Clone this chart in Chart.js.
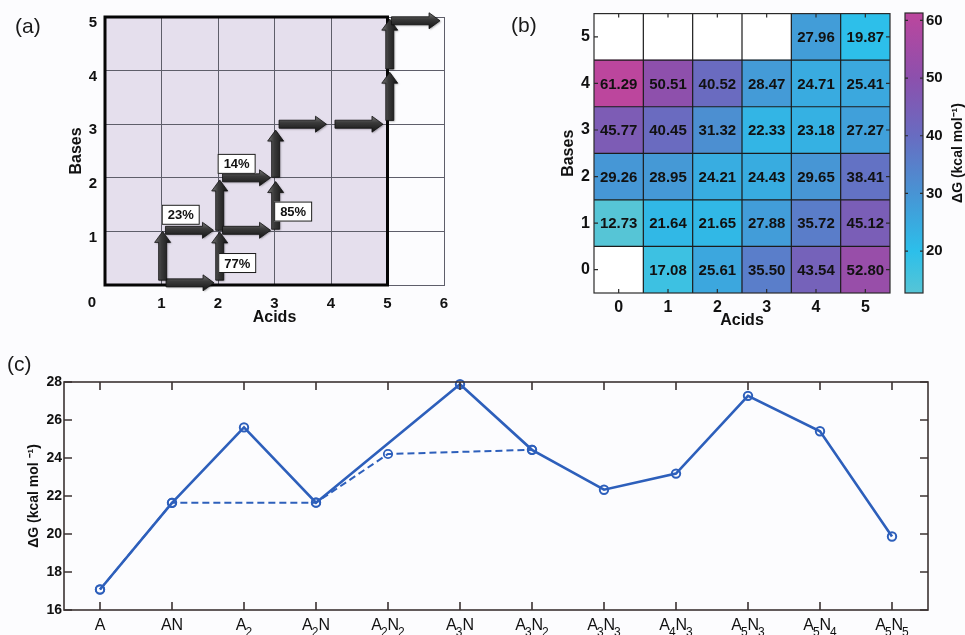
<!DOCTYPE html>
<html>
<head>
<meta charset="utf-8">
<title>Acid–base complex formation energies</title>
<script src="https://cdn.jsdelivr.net/npm/chart.js@4.4.1/dist/chart.umd.min.js"></script>
<style>
  html, body { margin: 0; padding: 0; background: #fcfcfe; }
  #fig { position: relative; width: 965px; height: 635px; overflow: hidden; background: #fcfcfe;
         font-family: "Liberation Sans", Arial, sans-serif; }
  #fig canvas { position: absolute; }
  .tag { position: absolute; font-size: 21px; line-height: 21px; color: #1a1a1a; }
</style>
</head>
<body>
<div id="fig">
  <canvas id="pathChart" width="470" height="330" style="left:0;top:0"></canvas>
  <canvas id="heatChart" width="395" height="330" style="left:500px;top:0"></canvas>
  <canvas id="scaleChart" width="70" height="330" style="left:895px;top:0"></canvas>
  <canvas id="lineChart" width="965" height="305" style="left:0;top:330px"></canvas>
  <div class="tag" style="left:15px;top:15px">(a)</div>
  <div class="tag" style="left:511px;top:14px">(b)</div>
  <div class="tag" style="left:7px;top:353px">(c)</div>
</div>
<script>
// ---------- data ----------
const acids = [0, 1, 2, 3, 4, 5];
const bases = [0, 1, 2, 3, 4, 5];

// ΔG (kcal/mol) for each (acids, bases) cluster, one array per number of bases
const dGBases0 = [null, 17.08, 25.61, 35.50, 43.54, 52.80];
const dGBases1 = [12.73, 21.64, 21.65, 27.88, 35.72, 45.12];
const dGBases2 = [29.26, 28.95, 24.21, 24.43, 29.65, 38.41];
const dGBases3 = [45.77, 40.45, 31.32, 22.33, 23.18, 27.27];
const dGBases4 = [61.29, 50.51, 40.52, 28.47, 24.71, 25.41];
const dGBases5 = [null, null, null, null, 27.96, 19.87];
const heatRows = [dGBases0, dGBases1, dGBases2, dGBases3, dGBases4, dGBases5];
const colorbarTicks = [20, 30, 40, 50, 60];

// growth pathway grid (panel a)
const gridAcidTicks = [0, 1, 2, 3, 4, 5, 6];
const gridBaseTicks = [0, 1, 2, 3, 4, 5];
// arrows: [acids from, bases from, acids to, bases to]
const pathArrows = [
  [1.08, 0.04, 1.93, 0.04],
  [1.02, 0.09, 1.02, 1.00],
  [1.07, 1.02, 1.92, 1.02],
  [2.03, 0.09, 2.03, 0.99],
  [2.03, 1.02, 2.03, 1.96],
  [2.08, 1.02, 2.93, 1.02],
  [2.08, 2.00, 2.93, 2.00],
  [3.02, 1.04, 3.02, 1.93],
  [3.02, 2.01, 3.02, 2.89],
  [3.08, 3.00, 3.92, 3.00],
  [4.07, 3.00, 4.92, 3.00],
  [5.04, 3.07, 5.04, 3.97],
  [5.04, 4.03, 5.04, 4.96],
  [5.07, 4.93, 5.93, 4.93]
];
const branchText = ['23%', '14%', '85%', '77%'];
const branchAcids = [1.34, 2.33, 3.33, 2.34];
const branchBases = [1.31, 2.26, 1.37, 0.41];

// lowest-energy growth sequence (panel c)
const stepLabels = ['A', 'AN', 'A₂', 'A₂N', 'A₂N₂', 'A₃N', 'A₃N₂', 'A₃N₃', 'A₄N₃', 'A₅N₃', 'A₅N₄', 'A₅N₅'];
const dGSolidPath = [17.08, 21.64, 25.61, 21.65, null, 27.88, 24.43, 22.33, 23.18, 27.27, 25.41, 19.87];
const dGDashedPath = [17.08, 21.64, null, 21.65, 24.21, null, 24.43, null, null, null, null, null];
const dGAxisTicks = [16, 18, 20, 22, 24, 26, 28];

// ---------- styling helpers ----------
const FONT = '"Liberation Sans", Arial, sans-serif';
Chart.defaults.font.family = FONT;
Chart.defaults.color = '#111';
const lineBlue = '#2d5fbb';

const cmapStops = [
  [12.73, [86, 197, 214]],
  [20, [44, 191, 234]],
  [30, [72, 148, 212]],
  [40, [104, 108, 193]],
  [50, [140, 80, 173]],
  [61.29, [188, 70, 157]]
];
function cmap(v) {
  if (v <= cmapStops[0][0]) return 'rgb(' + cmapStops[0][1] + ')';
  for (let i = 1; i < cmapStops.length; i++) {
    const [v1, c1] = cmapStops[i];
    const [v0, c0] = cmapStops[i - 1];
    if (v <= v1) {
      const t = (v - v0) / (v1 - v0);
      return 'rgb(' + c0.map((c, k) => Math.round(c + (c1[k] - c) * t)).join(',') + ')';
    }
  }
  return 'rgb(' + cmapStops[cmapStops.length - 1][1] + ')';
}

const allValues = heatRows.flat().filter(v => v != null);
const dGMin = Math.min(...allValues);
const dGMax = Math.max(...allValues);

function fixedTicks(list) {
  return scale => { scale.ticks = list.map(v => ({ value: v })); };
}

// draws a box around the chart area with short inward ticks (MATLAB-style)
const framePlugin = {
  id: 'frame',
  afterDraw(chart, args, opts) {
    if (!opts || !opts.enabled) return;
    const { ctx, chartArea: a, scales } = chart;
    ctx.save();
    ctx.strokeStyle = opts.color;
    ctx.lineWidth = opts.width;
    ctx.strokeRect(a.left, a.top, a.right - a.left, a.bottom - a.top);
    const L = opts.tickLen;
    ctx.beginPath();
    if (opts.xTicks && scales.x) {
      scales.x.ticks.forEach((t, i) => {
        const px = scales.x.getPixelForTick(i);
        ctx.moveTo(px, a.bottom); ctx.lineTo(px, a.bottom - L);
        ctx.moveTo(px, a.top); ctx.lineTo(px, a.top + L);
      });
    }
    if (opts.yTicks && scales.y) {
      scales.y.ticks.forEach(t => {
        const py = scales.y.getPixelForValue(t.value);
        ctx.moveTo(a.left, py); ctx.lineTo(a.left + L, py);
        ctx.moveTo(a.right, py); ctx.lineTo(a.right - L, py);
      });
    }
    ctx.stroke();
    ctx.restore();
  }
};
Chart.register(framePlugin);

// ---------- panel (a): growth pathway ----------
function drawArrow(ctx, x0, y0, x1, y1) {
  const len = Math.hypot(x1 - x0, y1 - y0);
  const ang = Math.atan2(y1 - y0, x1 - x0);
  const shaft = 8, head = 16, headLen = 11;
  ctx.save();
  ctx.translate(x0, y0);
  ctx.rotate(ang);
  ctx.beginPath();
  ctx.moveTo(0, -shaft / 2);
  ctx.lineTo(len - headLen, -shaft / 2);
  ctx.lineTo(len - headLen, -head / 2);
  ctx.lineTo(len, 0);
  ctx.lineTo(len - headLen, head / 2);
  ctx.lineTo(len - headLen, shaft / 2);
  ctx.lineTo(0, shaft / 2);
  ctx.closePath();
  const g = ctx.createLinearGradient(0, -head / 2, 0, head / 2);
  g.addColorStop(0, '#777777');
  g.addColorStop(0.4, '#3b3b3b');
  g.addColorStop(1, '#141414');
  ctx.fillStyle = g;
  ctx.shadowColor = 'rgba(0,0,0,0.35)';
  ctx.shadowBlur = 2;
  ctx.shadowOffsetX = 1;
  ctx.shadowOffsetY = 1;
  ctx.fill();
  ctx.shadowColor = 'transparent';
  ctx.strokeStyle = '#101010';
  ctx.lineWidth = 0.8;
  ctx.stroke();
  ctx.restore();
}

const pathwayPlugin = {
  id: 'pathway',
  beforeDraw(chart) {
    const { ctx, scales: { x, y } } = chart;
    ctx.save();
    ctx.fillStyle = '#e5dfed';
    const l = x.getPixelForValue(0), r = x.getPixelForValue(5);
    const t = y.getPixelForValue(5), b = y.getPixelForValue(0);
    ctx.fillRect(l, t, r - l, b - t);
    ctx.restore();
  },
  afterDraw(chart) {
    const { ctx, scales: { x, y } } = chart;
    ctx.save();
    // region boundary
    const l = x.getPixelForValue(0), r = x.getPixelForValue(5);
    const t = y.getPixelForValue(5), b = y.getPixelForValue(0);
    ctx.strokeStyle = '#050505';
    ctx.lineWidth = 3;
    ctx.strokeRect(l, t, r - l, b - t);
    // shared origin label
    ctx.font = 'bold 15px ' + FONT;
    ctx.fillStyle = '#111';
    ctx.textAlign = 'center';
    ctx.textBaseline = 'middle';
    ctx.fillText('0', l - 13, b + 18);
    // arrows
    pathArrows.forEach(([a0, b0, a1, b1]) => {
      drawArrow(ctx, x.getPixelForValue(a0), y.getPixelForValue(b0),
                x.getPixelForValue(a1), y.getPixelForValue(b1));
    });
    // branching percentages
    ctx.font = 'bold 13px ' + FONT;
    branchText.forEach((txt, i) => {
      const cx = x.getPixelForValue(branchAcids[i]);
      const cy = y.getPixelForValue(branchBases[i]);
      const w = 38, h = 20;
      ctx.fillStyle = '#ffffff';
      ctx.fillRect(cx - w / 2, cy - h / 2, w, h);
      ctx.strokeStyle = '#1a1a1a';
      ctx.lineWidth = 1;
      ctx.strokeRect(cx - w / 2 + 0.5, cy - h / 2 + 0.5, w - 1, h - 1);
      ctx.fillStyle = '#111';
      ctx.fillText(txt, cx, cy + 1);
    });
    ctx.restore();
  }
};

new Chart(document.getElementById('pathChart'), {
  type: 'scatter',
  data: { datasets: [] },
  plugins: [pathwayPlugin],
  options: {
    responsive: false, animation: false, devicePixelRatio: 1,
    layout: { padding: { left: 60, top: 16, right: 26, bottom: 0 } },
    plugins: { legend: { display: false }, tooltip: { enabled: false } },
    scales: {
      x: {
        type: 'linear', min: 0, max: 6,
        afterBuildTicks: fixedTicks(gridAcidTicks),
        grid: { color: '#5e5e6a', lineWidth: 1, drawTicks: false },
        border: { color: '#5e5e6a' },
        ticks: { font: { size: 15, weight: 'bold' }, padding: 10, callback: v => (v === 0 ? '' : v) },
        title: { display: true, text: 'Acids', font: { size: 16, weight: 'bold' }, padding: { top: 0, bottom: 3 } },
        afterFit: s => { s.height = 45; }
      },
      y: {
        type: 'linear', min: 0, max: 5,
        afterBuildTicks: fixedTicks(gridBaseTicks),
        grid: { color: '#5e5e6a', lineWidth: 1, drawTicks: false },
        border: { color: '#5e5e6a' },
        ticks: { font: { size: 15, weight: 'bold' }, padding: 8, labelOffset: 6, callback: v => (v === 0 ? '' : v) },
        title: { display: true, text: 'Bases', font: { size: 16, weight: 'bold' }, padding: { top: 7, bottom: 0 } },
        afterFit: s => { s.width = 45; }
      }
    }
  }
});

// ---------- panel (b): ΔG heat map ----------
const heatPlugin = {
  id: 'heatCells',
  afterDatasetsDraw(chart) {
    const { ctx, chartArea: a, scales: { x, y } } = chart;
    ctx.save();
    // cell outlines
    ctx.strokeStyle = '#1c1c1c';
    ctx.lineWidth = 1.2;
    ctx.beginPath();
    acids.forEach((_, i) => {
      const px = (x.getPixelForTick(i) + (i + 1 < acids.length ? x.getPixelForTick(i + 1) : a.right + (a.right - x.getPixelForTick(i)) - (a.right - x.getPixelForTick(i)))) / 2;
      if (i + 1 < acids.length) { ctx.moveTo(px, a.top); ctx.lineTo(px, a.bottom); }
    });
    bases.forEach(b => {
      if (b === bases[bases.length - 1]) return;
      const py = y.getPixelForValue(b + 0.5);
      ctx.moveTo(a.left, py); ctx.lineTo(a.right, py);
    });
    ctx.stroke();
    // values
    ctx.font = 'bold 15px ' + FONT;
    ctx.fillStyle = '#111';
    ctx.textAlign = 'center';
    ctx.textBaseline = 'middle';
    heatRows.forEach((row, r) => {
      const meta = chart.getDatasetMeta(r);
      meta.data.forEach((bar, c) => {
        const v = row[c];
        if (v == null) return;
        ctx.fillText(v.toFixed(2), bar.x, (bar.y + bar.base) / 2 + 1);
      });
    });
    ctx.restore();
  }
};

new Chart(document.getElementById('heatChart'), {
  type: 'bar',
  data: {
    labels: acids.map(String),
    datasets: heatRows.map((row, b) => ({
      data: row.map(() => [bases[b] - 0.5, bases[b] + 0.5]),
      backgroundColor: row.map(v => (v == null ? '#ffffff' : cmap(v))),
      borderWidth: 0,
      barPercentage: 1,
      categoryPercentage: 1,
      grouped: false
    }))
  },
  plugins: [heatPlugin],
  options: {
    responsive: false, animation: false, devicePixelRatio: 1,
    layout: { padding: { left: 55, top: 13, right: 5, bottom: 0 } },
    plugins: {
      legend: { display: false }, tooltip: { enabled: false },
      frame: { enabled: true, color: '#2a2a2a', width: 1.2, tickLen: 4, xTicks: true, yTicks: true }
    },
    scales: {
      x: {
        grid: { display: false, drawTicks: false }, border: { display: false },
        ticks: { font: { size: 16, weight: 'bold' }, padding: 5 },
        title: { display: true, text: 'Acids', font: { size: 16, weight: 'bold' }, padding: { top: 0, bottom: 0 } },
        afterFit: s => { s.height = 37; }
      },
      y: {
        type: 'linear', min: -0.5, max: 5.5,
        afterBuildTicks: fixedTicks(bases),
        grid: { display: false, drawTicks: false }, border: { display: false },
        ticks: { font: { size: 16, weight: 'bold' }, padding: 4 },
        title: { display: true, text: 'Bases', font: { size: 16, weight: 'bold' }, padding: { top: 4, bottom: 0 } },
        afterFit: s => { s.width = 39; }
      }
    }
  }
});

// ---------- colour scale ----------
const scaleTitlePlugin = {
  id: 'scaleTitle',
  afterDraw(chart) {
    const { ctx, chartArea: a } = chart;
    ctx.save();
    ctx.translate(63, (a.top + a.bottom) / 2);
    ctx.rotate(-Math.PI / 2);
    ctx.font = 'bold 14px ' + FONT;
    ctx.fillStyle = '#111';
    ctx.textAlign = 'center';
    ctx.textBaseline = 'middle';
    ctx.fillText('ΔG (kcal mol⁻¹)', 0, 0);
    ctx.restore();
  }
};

new Chart(document.getElementById('scaleChart'), {
  type: 'bar',
  data: {
    labels: ['ΔG'],
    datasets: [{
      data: [[dGMin, dGMax]],
      backgroundColor: c => {
        const ch = c.chart, ys = ch.scales.y;
        if (!ys || !ch.chartArea) return cmap((dGMin + dGMax) / 2);
        const g = ch.ctx.createLinearGradient(0, ys.getPixelForValue(dGMin), 0, ys.getPixelForValue(dGMax));
        cmapStops.forEach(([v, rgb]) => {
          g.addColorStop(Math.min(1, Math.max(0, (v - dGMin) / (dGMax - dGMin))), 'rgb(' + rgb + ')');
        });
        return g;
      },
      borderWidth: 0,
      barPercentage: 1,
      categoryPercentage: 1
    }]
  },
  plugins: [scaleTitlePlugin],
  options: {
    responsive: false, animation: false, devicePixelRatio: 1,
    layout: { padding: { left: 10, top: 13, right: 0, bottom: 37 } },
    plugins: {
      legend: { display: false }, tooltip: { enabled: false },
      frame: { enabled: true, color: '#2a2a2a', width: 1.2, tickLen: 3, xTicks: false, yTicks: true }
    },
    scales: {
      x: { display: false },
      y: {
        position: 'right', type: 'linear', min: dGMin, max: dGMax,
        afterBuildTicks: fixedTicks(colorbarTicks),
        grid: { display: false, drawTicks: false }, border: { display: false },
        ticks: { font: { size: 15, weight: 'bold' }, padding: 3 },
        afterFit: s => { s.width = 42; }
      }
    }
  }
});

// ---------- panel (c): ΔG along the growth sequence ----------
const subLabelPlugin = {
  id: 'subLabels',
  afterDraw(chart) {
    const { ctx, scales: { x }, chartArea: a } = chart;
    const big = '16px ' + FONT, small = '12px ' + FONT;
    ctx.save();
    ctx.fillStyle = '#111';
    ctx.textBaseline = 'alphabetic';
    ctx.textAlign = 'left';
    stepLabels.forEach((label, i) => {
      const runs = [...label].map(ch => {
        const code = ch.charCodeAt(0);
        if (code >= 0x2080 && code <= 0x2089) return { t: String(code - 0x2080), sub: true };
        return { t: ch, sub: false };
      });
      let total = 0;
      runs.forEach(r => {
        ctx.font = r.sub ? small : big;
        r.w = ctx.measureText(r.t).width;
        r.gap = r.sub ? -1 : 0;
        total += r.w + r.gap;
      });
      let cx = x.getPixelForTick(i) - total / 2;
      const base = a.bottom + 20;
      runs.forEach(r => {
        ctx.font = r.sub ? small : big;
        cx += r.gap;
        ctx.fillText(r.t, cx, r.sub ? base + 6 : base);
        cx += r.w;
      });
    });
    ctx.restore();
  }
};

new Chart(document.getElementById('lineChart'), {
  type: 'line',
  data: {
    labels: stepLabels,
    datasets: [
      {
        data: dGSolidPath,
        borderColor: lineBlue, borderWidth: 2.6,
        pointRadius: 4.2, pointBorderWidth: 2,
        pointBorderColor: lineBlue, pointBackgroundColor: 'rgba(0,0,0,0)',
        spanGaps: true, tension: 0, clip: false
      },
      {
        data: dGDashedPath,
        borderColor: lineBlue, borderWidth: 2, borderDash: [7, 4],
        pointRadius: 4.2, pointBorderWidth: 1.8,
        pointBorderColor: lineBlue, pointBackgroundColor: 'rgba(0,0,0,0)',
        spanGaps: true, tension: 0, clip: false
      }
    ]
  },
  plugins: [subLabelPlugin],
  options: {
    responsive: false, animation: false, devicePixelRatio: 1,
    layout: { padding: { left: 22, top: 52, right: 37, bottom: 0 } },
    plugins: {
      legend: { display: false }, tooltip: { enabled: false },
      frame: { enabled: true, color: '#3b3232', width: 1.6, tickLen: 8, xTicks: true, yTicks: true }
    },
    scales: {
      x: {
        offset: true,
        grid: { display: false, drawTicks: false }, border: { display: false },
        ticks: { callback: () => '', autoSkip: false },
        afterFit: s => { s.height = 25; }
      },
      y: {
        type: 'linear', min: 16, max: 28,
        afterBuildTicks: fixedTicks(dGAxisTicks),
        grid: { display: false, drawTicks: false }, border: { display: false },
        ticks: { font: { size: 14, weight: 'bold' }, padding: 2 },
        title: { display: true, text: 'ΔG (kcal mol ⁻¹)', font: { size: 14, weight: 'bold' }, padding: { top: 4, bottom: 0 } },
        afterFit: s => { s.width = 42; }
      }
    }
  }
});
</script>
</body>
</html>
